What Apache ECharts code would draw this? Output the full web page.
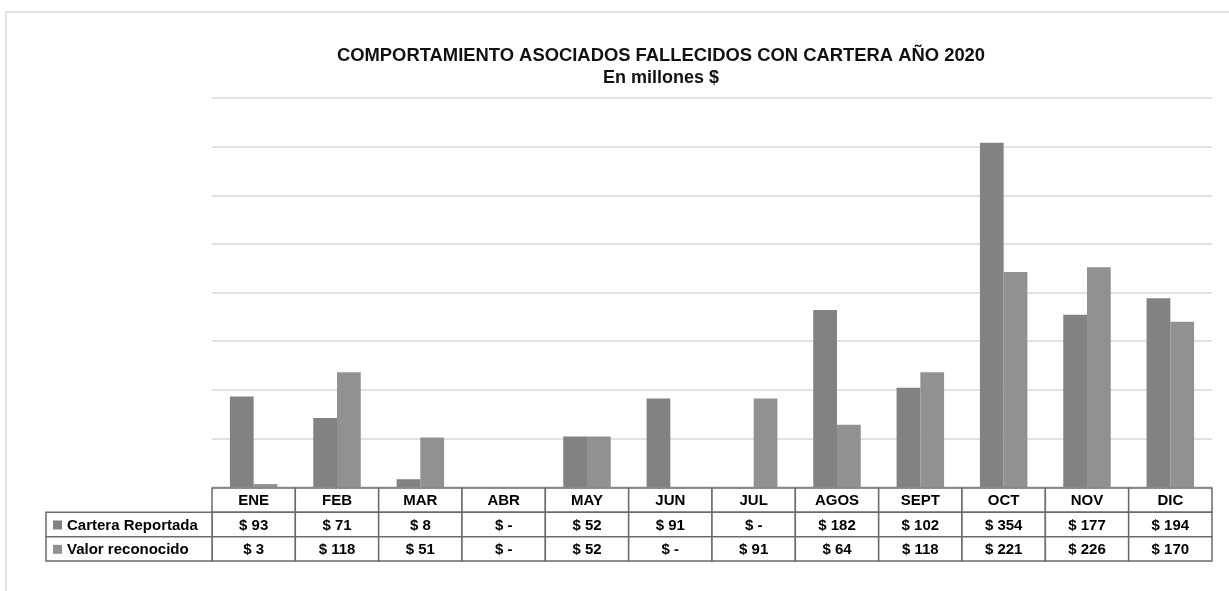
<!DOCTYPE html>
<html>
<head>
<meta charset="utf-8">
<script src="https://cdn.jsdelivr.net/npm/echarts@6/dist/echarts.min.js"></script>
<style>
html,body{margin:0;padding:0;background:#fff;}
#chart{width:1229px;height:591px;}
</style>
</head>
<body>
<div id="chart"></div>
<script>
const categories = ['ENE','FEB','MAR','ABR','MAY','JUN','JUL','AGOS','SEPT','OCT','NOV','DIC'];
const seriesNames = ['Cartera Reportada','Valor reconocido'];
const cartera = [93,71,8,0,52,91,0,182,102,354,177,194];
const valor = [3,118,51,0,52,0,91,64,118,221,226,170];
const yTicks = [0,50,100,150,200,250,300,350,400];

const colors = ['#828282','#919191'];
const FONT = '"Liberation Sans", Arial, sans-serif';
const fmt = v => v === 0 ? '$ -' : '$ ' + v;

// table cells: [col, row]
const tableCells = [];
const tableTexts = [];
categories.forEach((c,i)=>{
  tableCells.push([i,0]); tableTexts.push(c);
  tableCells.push([i,1]); tableTexts.push(fmt(cartera[i]));
  tableCells.push([i,2]); tableTexts.push(fmt(valor[i]));
});
const legendCells = [[0,0],[0,1]];

const chart = echarts.init(document.getElementById('chart'));
chart.setOption({
  animation:false,
  backgroundColor:'#fff',
  title:[
    {text:'COMPORTAMIENTO ASOCIADOS FALLECIDOS CON CARTERA AÑO 2020', left:656, top:42, textAlign:'center',
     textStyle:{fontFamily:FONT, fontWeight:'bold', fontSize:18.4, color:'#111'}},
    {text:'En millones $', left:656, top:64, textAlign:'center',
     textStyle:{fontFamily:FONT, fontWeight:'bold', fontSize:18, color:'#111'}}
  ],
  graphic:[
    {type:'rect', shape:{x:6, y:12, width:1240, height:620}, style:{fill:'none', stroke:'#d9d9d9', lineWidth:1.5}, silent:true, z:-10}
  ],
  grid:[
    {left:212, right:17, top:98, bottom:104},
    {left:212, right:17, top:488, height:73},
    {left:46, width:166, top:512.3, height:48.7}
  ],
  xAxis:[
    {type:'category', data:categories, gridIndex:0, axisLine:{show:false}, axisTick:{show:false}, axisLabel:{show:false}},
    {type:'category', data:categories, gridIndex:1, axisLine:{show:false}, axisTick:{show:false}, axisLabel:{show:false}},
    {type:'category', data:['leyenda'], gridIndex:2, axisLine:{show:false}, axisTick:{show:false}, axisLabel:{show:false}}
  ],
  yAxis:[
    {type:'value', gridIndex:0, min:0, max:400, interval:50, axisLabel:{show:false}, axisLine:{show:false}, axisTick:{show:false},
     splitLine:{lineStyle:{color:'#d9d9d9', width:1.5}}},
    {type:'category', gridIndex:1, inverse:true, data:['h','c','v'], axisLabel:{show:false}, axisLine:{show:false}, axisTick:{show:false}},
    {type:'category', gridIndex:2, inverse:true, data:['c','v'], axisLabel:{show:false}, axisLine:{show:false}, axisTick:{show:false}}
  ],
  series:[
    {name:seriesNames[0], type:'bar', data:cartera, xAxisIndex:0, yAxisIndex:0, barGap:'0%', barCategoryGap:'43%',
     itemStyle:{color:colors[0]}},
    {name:seriesNames[1], type:'bar', data:valor, xAxisIndex:0, yAxisIndex:0, barGap:'0%', barCategoryGap:'43%',
     itemStyle:{color:colors[1]}},
    {type:'custom', xAxisIndex:1, yAxisIndex:1, data:tableCells, z:5,
     renderItem:(params, api)=>{
       const c = api.coord([api.value(0), api.value(1)]);
       const s = api.size([1,1]);
       return {type:'group', children:[
         {type:'rect', shape:{x:c[0]-s[0]/2, y:c[1]-s[1]/2, width:s[0], height:s[1]},
          style:{fill:'#fff', stroke:'#6b6b6b', lineWidth:1.5}},
         {type:'text', style:{text:tableTexts[params.dataIndex], x:c[0], y:c[1]+1, align:'center', verticalAlign:'middle',
          font:'bold 15px '+FONT, fill:'#000'}}
       ]};
     }},
    {type:'custom', xAxisIndex:2, yAxisIndex:2, data:legendCells, z:5,
     renderItem:(params, api)=>{
       const c = api.coord([api.value(0), api.value(1)]);
       const s = api.size([1,1]);
       const x0 = c[0]-s[0]/2, y0 = c[1]-s[1]/2;
       return {type:'group', children:[
         {type:'rect', shape:{x:x0, y:y0, width:s[0], height:s[1]},
          style:{fill:'#fff', stroke:'#6b6b6b', lineWidth:1.5}},
         {type:'rect', shape:{x:x0+7, y:c[1]-4, width:9, height:9}, style:{fill:colors[params.dataIndex]}},
         {type:'text', style:{text:seriesNames[params.dataIndex], x:x0+21, y:c[1]+1, align:'left', verticalAlign:'middle',
          font:'bold 15px '+FONT, fill:'#000'}}
       ]};
     }}
  ]
});
</script>
</body>
</html>
